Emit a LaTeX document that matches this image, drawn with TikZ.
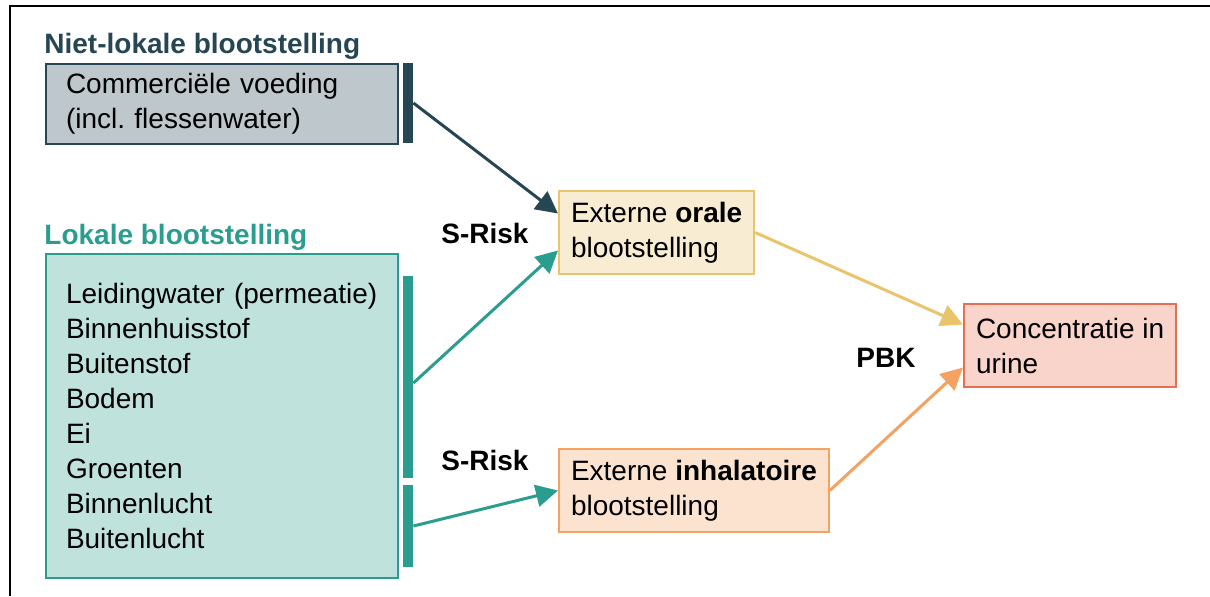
\documentclass[tikz,border=0pt]{standalone}
\usepackage{fontspec}
\setmainfont{Liberation Sans}
\usetikzlibrary{arrows.meta}

\definecolor{slate}{HTML}{264653}
\definecolor{teal}{HTML}{2A9D8F}
\definecolor{gold}{HTML}{E9C46A}
\definecolor{sand}{HTML}{F4A261}
\definecolor{coral}{HTML}{E76F51}
\newcommand{\diagfont}{\fontsize{14}{17.5}\selectfont}
\frenchspacing

\begin{document}
\begin{tikzpicture}[x=0.5pt, y=-0.5pt, font=\diagfont,
    srcbox/.style={draw=#1, fill=#1!30, line width=1pt, anchor=north west,
        text width=156pt, inner xsep=10pt, align=left},
    outbox/.style={draw=#1, fill=#1!30, line width=1pt, anchor=north west,
        inner xsep=6pt, minimum height=41.5pt, align=left},
    bar/.style={fill=#1, minimum width=5pt, inner sep=0pt},
    title/.style={anchor=base west, inner sep=0pt, font=\diagfont\bfseries},
    link/.style={line width=1.5pt, -{Triangle[length=11pt,width=11pt]}}]

\useasboundingbox (0,0) rectangle (1210,596);

% frame
\draw [line width=1.2pt] (10,596) -- (10,6) -- (1210,6);

% sources
\node [title, text=slate] (nonlocal) at (44,53) {Niet-lokale blootstelling};
\node [srcbox=slate, minimum height=40pt] (food) at (45,63)
    {Commerciële voeding\\(incl. flessenwater)};
\node [title, text=teal] (local) at (44,244) {Lokale blootstelling};
\node [srcbox=teal, minimum height=162pt] (media) at (45,253)
    {Leidingwater (permeatie)\\Binnenhuisstof\\Buitenstof\\Bodem\\Ei\\Groenten\\Binnenlucht\\Buitenlucht};

% bars
\node [bar=slate, minimum height=40pt] (barfood) at (408,103) {};
\node [bar=teal, minimum height=101pt] (baroral) at (408,377) {};
\node [bar=teal, minimum height=41pt] (barinh) at (408,526) {};

% exposure and urine
\node [outbox=gold] (oral) at (558,190) {Externe \textbf{orale}\\blootstelling};
\node [outbox=sand] (inh) at (558,448) {Externe \textbf{inhalatoire}\\blootstelling};
\node [outbox=coral] (urine) at (963,303) {Concentratie in\\urine};

% model labels
\node [title] (srisk1) at (441,243) {S-Risk};
\node [title] (srisk2) at (441,470) {S-Risk};
\node [title] (pbk) at (856,367) {PBK};

% arrows
\draw [link, slate] (barfood.east) -- ([yshift=9.5pt]oral.west);
\draw [link, teal] ([yshift=-3pt]baroral.east) -- ([yshift=-9pt]oral.west);
\draw [link, teal] (barinh.east) -- (inh.west);
\draw [link, gold] (oral.east) -- ([yshift=10.5pt]urine.west);
\draw [link, sand] (inh.east) -- ([yshift=-11pt]urine.west);

\end{tikzpicture}
\end{document}
